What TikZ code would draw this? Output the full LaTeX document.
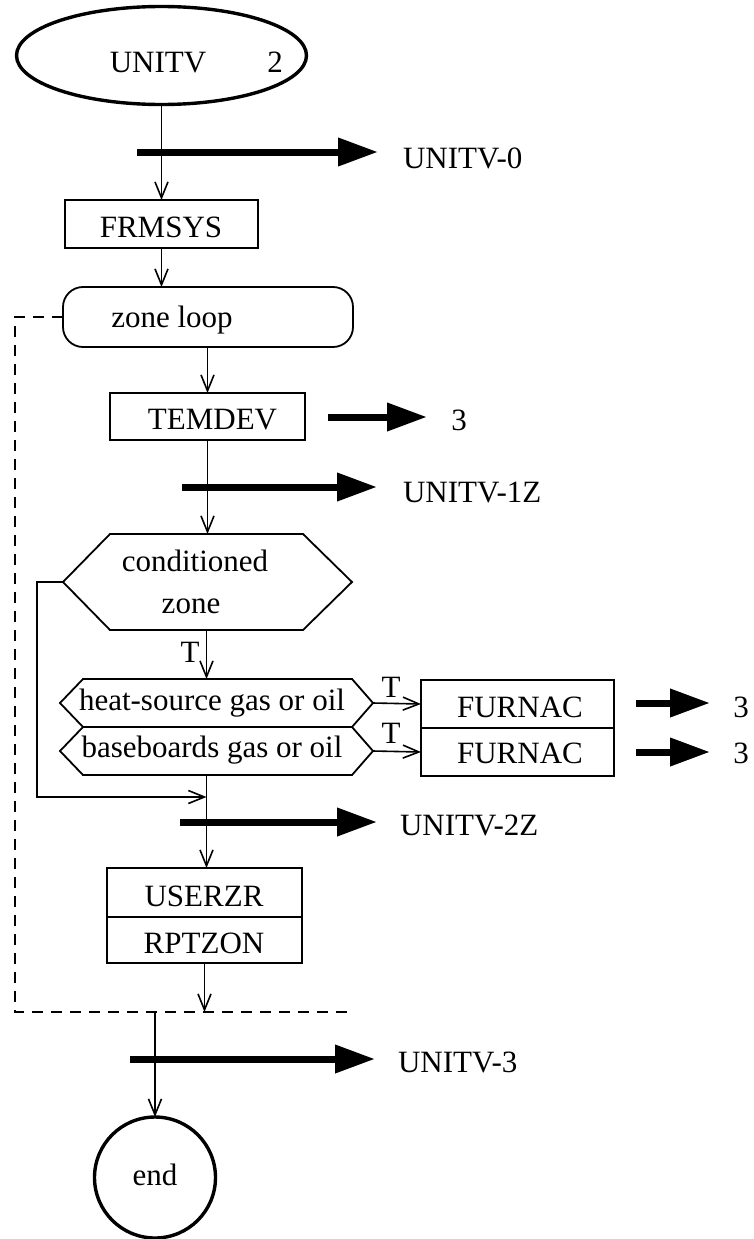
\documentclass[tikz,border=0pt]{standalone}
\usepackage{fontspec}
\setmainfont{Liberation Serif}
\usetikzlibrary{arrows.meta,shapes.geometric,calc}
\begin{document}
\begin{tikzpicture}[x=1pt,y=-1pt,
  every node/.style={inner sep=0pt, outer sep=0pt},
  txt/.style={anchor=base, font=\fontsize{31}{36}\selectfont},
  txtw/.style={anchor=base west, font=\fontsize{31}{36}\selectfont},
  box/.style={draw, line width=1.8pt, rectangle},
  ghost/.style={rectangle},
  hexline/.style={line width=1.8pt, line join=miter},
  flow/.style={line width=1.6pt, -{Straight Barb[length=16pt,width=13pt]}},
  outarrow/.style={line width=7pt, -{Triangle[length=40pt,width=27pt]}},
  loopline/.style={line width=1.6pt, dash pattern=on 11pt off 8pt},
  thickshape/.style={draw, line width=3.4pt},
]
\useasboundingbox (0,0) rectangle (753,1239);

% start ellipse
\node[thickshape, ellipse, minimum width=290pt, minimum height=98pt] (start) at (161.5,55.5) {};
\node[txt] (startname) at (158,72) {UNITV};
\node[txt] (startnum) at (275,72) {2};

% FRMSYS
\node[box, minimum width=193pt, minimum height=48pt] (frmsys) at (161.5,224) {};
\node[txt] (frmsystxt) at (161,237) {FRMSYS};

% zone loop
\node[draw, line width=1.8pt, rounded corners=20pt, minimum width=290pt, minimum height=60pt] (zl) at (208,317) {};
\node[txt] (zltxt) at (172,327) {zone loop};

% TEMDEV
\node[box, minimum width=195pt, minimum height=47pt] (temdev) at (207.5,416.5) {};
\node[txt] (temdevtxt) at (212.5,429) {TEMDEV};

% conditioned zone hexagon
\node[ghost, minimum width=193pt, minimum height=96pt] (cz) at (206.5,582) {};
\coordinate (czL) at ($(cz.west)+(-47,0)$);
\coordinate (czR) at ($(cz.east)+(49,0)$);
\draw[hexline] (cz.north west) -- (cz.north east) -- (czR) -- (cz.south east) -- (cz.south west) -- (czL) -- cycle;
\node[txt] (cztxt1) at (195,571) {conditioned};
\node[txt] (cztxt2) at (191,613) {zone};

% heat-source hexagon
\node[ghost, minimum width=269pt, minimum height=48pt] (hs) at (217.5,703) {};
\coordinate (hsL) at ($(hs.west)+(-23,0)$);
\coordinate (hsR) at ($(hs.east)+(21,0)$);
\draw[hexline] (hs.north west) -- (hs.north east) -- (hsR) -- (hs.south east) -- (hs.south west) -- (hsL) -- cycle;
\node[txt] (hstxt) at (212,710) {heat-source gas or oil};

% baseboards hexagon
\node[ghost, minimum width=269pt, minimum height=48pt] (bb) at (217.5,751) {};
\coordinate (bbL) at ($(bb.west)+(-23,0)$);
\coordinate (bbR) at ($(bb.east)+(21,0)$);
\draw[hexline] (bb.north west) -- (bb.north east) -- (bbR) -- (bb.south east) -- (bb.south west) -- (bbL) -- cycle;
\node[txt] (bbtxt) at (212,757) {baseboards gas or oil};

% FURNAC boxes
\node[box, minimum width=193pt, minimum height=48pt] (furnac1) at (517.5,704) {};
\node[txt] (furnac1txt) at (520,717) {FURNAC};
\node[box, minimum width=193pt, minimum height=48pt] (furnac2) at (517.5,752) {};
\node[txt] (furnac2txt) at (520,763) {FURNAC};

% USERZR / RPTZON
\node[box, minimum width=195pt, minimum height=49pt] (userzr) at (204.5,892.5) {};
\node[txt] (userzrtxt) at (204,906) {USERZR};
\node[box, minimum width=195pt, minimum height=46pt] (rptzon) at (204.5,940) {};
\node[txt] (rptzontxt) at (204,953) {RPTZON};

% end circle
\node[thickshape, circle, minimum size=121pt] (endc) at (155,1177.5) {};
\node[txt] (endtxt) at (155,1185) {end};

% coordinates
\coordinate (j) at (206.5,797);
\coordinate (loopend) at (350,1012);
\coordinate (exitp) at (155,1012);

% flow connectors
\draw[flow] (start.south) -- (frmsys.north);
\draw[flow] (frmsys.south) -- (frmsys.south |- zl.north);
\draw[flow] (temdev.north |- zl.south) -- (temdev.north);
\draw[flow] (temdev.south) -- (temdev.south |- cz.north);
\draw[flow] (cz.south) -- (cz.south |- hs.north);
\node[txt] (tcz) at (190,662) {T};
\draw[flow] (hsR) -- (furnac1.west);
\node[txt] (ths) at (391,697) {T};
\draw[flow] (bbR) -- (furnac2.west);
\node[txt] (tbb) at (391,743) {T};
\draw[flow] (cz.south |- bb.south) -- (cz.south |- userzr.north);
\draw[flow] (czL) -- ++(-26,0) |- (j);
\draw[flow] (rptzon.south) -- (rptzon.south |- loopend);
\draw[loopline] (zl.west) -| (15,1012) -- (loopend);
\draw[flow] (exitp) -- (endc.north);

% thick output arrows
\coordinate (a0s) at (137,152); \coordinate (a0e) at (378,152);
\draw[outarrow] (a0s) -- (a0e);
\node[txtw] (l0) at (403,168) {UNITV-0};

\coordinate (a1s) at (328,417); \coordinate (a1e) at (427,417);
\draw[outarrow] (a1s) -- (a1e);
\node[txt] (l1) at (459,430) {3};

\coordinate (a2s) at (182,487); \coordinate (a2e) at (377,487);
\draw[outarrow] (a2s) -- (a2e);
\node[txtw] (l2) at (403,502) {UNITV-1Z};

\coordinate (a3s) at (636,703); \coordinate (a3e) at (710,703);
\draw[outarrow] (a3s) -- (a3e);
\node[txt] (l3) at (741,717) {3};

\coordinate (a4s) at (636,752); \coordinate (a4e) at (710,752);
\draw[outarrow] (a4s) -- (a4e);
\node[txt] (l4) at (741,763) {3};

\coordinate (a5s) at (180,822); \coordinate (a5e) at (377,822);
\draw[outarrow] (a5s) -- (a5e);
\node[txtw] (l5) at (400,835) {UNITV-2Z};

\coordinate (a6s) at (130,1059); \coordinate (a6e) at (375,1059);
\draw[outarrow] (a6s) -- (a6e);
\node[txtw] (l6) at (398,1072) {UNITV-3};
\end{tikzpicture}
\end{document}
